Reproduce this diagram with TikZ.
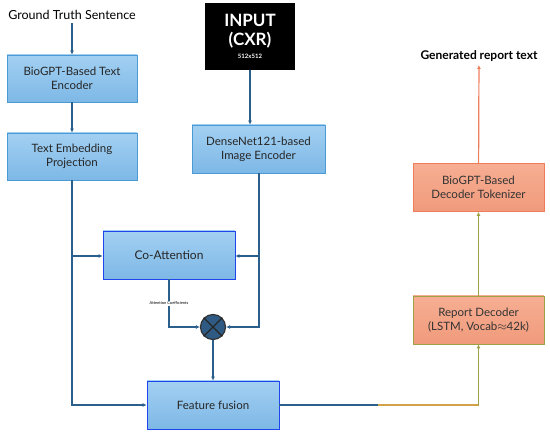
\documentclass[tikz,border=0pt]{standalone}
\usepackage{fontspec}
\setmainfont{Lato}
\usepackage{tikz}
\usetikzlibrary{positioning,arrows.meta}

\definecolor{bluefill}{HTML}{A3D0F2}
\definecolor{bluefilldark}{HTML}{7DB8E6}
\definecolor{blueedge}{HTML}{4A9AD6}
\definecolor{arrowblue}{HTML}{2B5F8C}
\definecolor{salmon}{HTML}{F6AE92}
\definecolor{salmondark}{HTML}{F19A7C}
\definecolor{orangeedge}{HTML}{EE7D5A}
\definecolor{olive}{HTML}{A0A046}
\definecolor{gold}{HTML}{D2A24A}
\definecolor{mulnode}{HTML}{2E5A84}

\begin{document}
\begin{tikzpicture}[
        x=1pt, y=-1pt,
        font=\fontsize{11.5}{14}\selectfont,
        >={Latex[length=4pt,width=4pt]},
        bluebox/.style={rectangle, draw=blueedge, line width=0.8pt, top color=bluefill, bottom color=bluefilldark, minimum width=130pt, minimum height=47pt, align=center, text=black!85},
        orangebox/.style={rectangle, draw=orangeedge, line width=0.8pt, top color=salmon, bottom color=salmondark, minimum width=131pt, minimum height=48pt, align=center, text=black!80},
        link/.style={draw=arrowblue, line width=1.2pt, ->},
        line/.style={draw=arrowblue, line width=1.2pt}
        ]
        \useasboundingbox (0,0) rectangle (550,435);
        % text branch
        \node[font=\fontsize{12.5}{15}\selectfont] (gts) at (72,15) {Ground Truth Sentence};
        \node[bluebox] (txtenc) at (72,78.5) {BioGPT-Based Text\\Encoder};
        \node[bluebox] (txtproj) at (72,156.5) {Text Embedding\\Projection};
        % image branch
        \node[rectangle, fill=black, text=white, minimum width=90pt, minimum height=67pt, align=center, inner sep=1pt,
              font=\bfseries\fontsize{17}{18.5}\selectfont] (input) at (250,36.5)
            {INPUT\\(CXR)\\[-5pt]{\fontsize{6}{7}\selectfont 512x512}};
        \node[bluebox, minimum width=133pt, minimum height=48pt] (imgenc) at (258.5,149) {DenseNet121-based\\Image Encoder};
        % attention and fusion
        \node[bluebox, draw=blue!55!blueedge, minimum width=132pt, minimum height=48pt] (coatt) at (169,255) {\fontsize{12}{14}\selectfont Co-Attention};
        \node[circle, draw=black!80, fill=mulnode, line width=1.2pt, minimum size=25pt, inner sep=0pt] (mul) at (213,327) {};
        \draw[black!85, line width=1.2pt] (mul.north west) -- (mul.south east) (mul.north east) -- (mul.south west);
        \node[bluebox, draw=blue!55!blueedge, minimum width=132pt, minimum height=48pt] (fusion) at (213,405) {Feature fusion};
        % decoder
        \node[orangebox, draw=olive] (decoder) at (478.5,320) {Report Decoder\\(LSTM, Vocab$\approx$42k)};
        \node[orangebox] (tokenizer) at (478.5,187.5) {BioGPT-Based\\Decoder Tokenizer};
        \node[font=\fontsize{12}{14}\selectfont\bfseries] (output) at (479,56) {Generated report text};
        \coordinate (split) at (378,405);
        \coordinate (txtjoin) at (72,256);
        \coordinate (imgjoin) at (259,256);

        \path[link] (gts) -- (txtenc);
        \path[link] (txtenc) -- (txtproj);
        \path[link] (input) -- (imgenc.north -| input);
        \path[line] (txtproj) -- (txtjoin);
        \path[link] (txtjoin) |- (fusion.west);
        \path[link] (txtjoin) -- (coatt.west |- txtjoin);
        \path[line] (imgenc.south -| imgjoin) -- (imgjoin);
        \path[link] (imgjoin) |- (mul.east);
        \path[link] (imgjoin) -- (coatt.east |- imgjoin);
        \path[link] (coatt.south) |- node[pos=0.25, fill=white, inner sep=1pt, font=\fontsize{4}{5}\selectfont] {Attention Coefficients} (mul.west);
        \path[link] (mul) -- (fusion);
        \path[line] (fusion) -- (split);
        \draw[gold, line width=1.2pt] (split) -- (478.5,405);
        \draw[olive, line width=1.2pt, ->] (478.5,405) -- (decoder);
        \draw[olive, line width=1.2pt, ->] (decoder) -- (tokenizer);
        \draw[orangeedge, line width=1.2pt, ->] (tokenizer) -- (output);
    \end{tikzpicture}
\end{document}
